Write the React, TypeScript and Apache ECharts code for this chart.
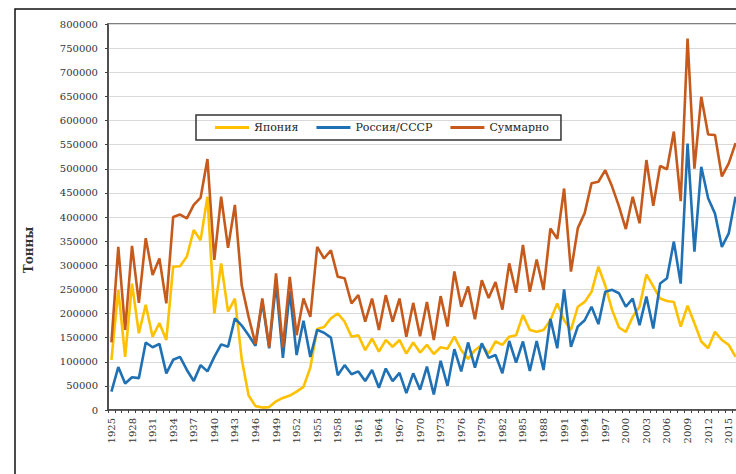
import React, { useEffect, useRef } from "react";
import * as echarts from "echarts";

const FIRST_YEAR = 1925;

const japan = [
  104000, 249000, 110000, 262000, 159000, 218000, 152000, 180000, 145000, 297000,
  298000, 318000, 373000, 352000, 442000, 200000, 304000, 204000, 231000, 105000,
  30000, 8000, 5000, 6000, 18000, 25000, 30000, 38000, 48000, 88000,
  168000, 172000, 190000, 200000, 183000, 152000, 155000, 124000, 148000, 121000,
  145000, 131000, 145000, 117000, 140000, 119000, 135000, 116000, 130000, 127000,
  152000, 124000, 106000, 124000, 135000, 117000, 142000, 135000, 152000, 155000,
  197000, 166000, 162000, 166000, 186000, 221000, 186000, 166000, 214000, 224000,
  245000, 297000, 258000, 207000, 171000, 162000, 193000, 214000, 281000, 256000,
  231000, 226000, 224000, 173000, 216000, 180000, 142000, 128000, 162000, 145000,
  135000, 110000,
];

const russia = [
  38000, 89000, 55000, 68000, 66000, 140000, 130000, 137000, 76000, 104000,
  110000, 83000, 60000, 93000, 80000, 110000, 136000, 131000, 190000, 175000,
  155000, 133000, 225000, 128000, 263000, 108000, 246000, 114000, 185000, 110000,
  166000, 160000, 150000, 72000, 93000, 74000, 80000, 60000, 83000, 46000,
  86000, 60000, 77000, 35000, 76000, 42000, 90000, 32000, 102000, 50000,
  126000, 80000, 140000, 88000, 138000, 108000, 114000, 76000, 143000, 98000,
  142000, 81000, 143000, 83000, 189000, 128000, 250000, 131000, 173000, 186000,
  214000, 178000, 245000, 249000, 242000, 214000, 231000, 176000, 235000, 169000,
  262000, 273000, 349000, 262000, 552000, 328000, 504000, 439000, 407000, 338000,
  366000, 442000,
];

const total = [
  140000, 338000, 166000, 340000, 222000, 356000, 280000, 314000, 221000, 400000,
  405000, 397000, 425000, 440000, 520000, 311000, 442000, 336000, 425000, 258000,
  193000, 137000, 231000, 130000, 283000, 130000, 276000, 155000, 231000, 193000,
  338000, 314000, 331000, 276000, 273000, 221000, 238000, 183000, 231000, 166000,
  238000, 183000, 231000, 152000, 222000, 153000, 224000, 145000, 236000, 173000,
  287000, 214000, 256000, 188000, 269000, 232000, 265000, 208000, 304000, 243000,
  342000, 245000, 312000, 249000, 376000, 355000, 459000, 287000, 377000, 408000,
  470000, 473000, 497000, 463000, 422000, 375000, 442000, 387000, 518000, 423000,
  506000, 499000, 577000, 433000, 770000, 500000, 649000, 571000, 570000, 484000,
  511000, 553000,
];

const years = japan.map((_, i) => String(FIRST_YEAR + i));
const seriesNames = ["Япония", "Россия/СССР", "Суммарно"];
const seriesColors = ["#FFC000", "#2070B4", "#C55A1C"];
const yAxisTitle = "Тонны";

const FONT = "DejaVu Serif";

export default function App() {
  const ref = useRef<HTMLDivElement>(null);
  useEffect(() => {
    const chart = echarts.init(ref.current!, null, { renderer: "svg" });
    const datasets = [japan, russia, total];
    chart.setOption({
      animation: false,
      backgroundColor: "#ffffff",
      grid: {
        left: 108,
        top: 24,
        width: 631,
        height: 386,
        show: true,
        borderColor: "#555555",
        borderWidth: 1.5,
        backgroundColor: "transparent",
      },
      legend: {
        left: 196,
        top: 115,
        padding: [7, 12, 7, 19],
        itemGap: 18,
        itemWidth: 34,
        itemHeight: 3,
        icon: "rect",
        borderColor: "#333333",
        borderWidth: 1.5,
        textStyle: { fontFamily: FONT, fontSize: 11, color: "#222" },
        data: seriesNames,
      },
      graphic: [
        {
          type: "rect",
          shape: { x: 15, y: 9, width: 900, height: 600 },
          style: { fill: "none", stroke: "#111", lineWidth: 1.5 },
          silent: true,
        },
        {
          type: "text",
          x: 29,
          y: 250,
          rotation: Math.PI / 2,
          style: {
            text: yAxisTitle,
            fontFamily: FONT,
            fontSize: 12,
            fontWeight: "bold",
            fill: "#333",
            align: "center",
            verticalAlign: "middle",
          },
        },
      ],
      xAxis: {
        type: "category",
        data: years,
        boundaryGap: true,
        axisLine: { lineStyle: { color: "#404040", width: 1.5 } },
        axisTick: { show: true, interval: 0, length: 3, lineStyle: { color: "#404040" } },
        axisLabel: {
          interval: 2,
          rotate: 90,
          margin: 8,
          fontFamily: FONT,
          fontSize: 10,
          color: "#333",
        },
        splitLine: { show: false },
      },
      yAxis: {
        type: "value",
        min: 0,
        max: 800000,
        interval: 50000,
        axisLine: { show: true, lineStyle: { color: "#404040", width: 1.5 } },
        axisTick: { show: true, length: 3, lineStyle: { color: "#404040" } },
        axisLabel: {
          margin: 10,
          fontFamily: FONT,
          fontSize: 10,
          color: "#333",
          formatter: (v: number) => String(v),
        },
        splitLine: { lineStyle: { color: "#d9d9d9", width: 1.2 } },
      },
      series: seriesNames.map((name, k) => ({
        name,
        type: "line",
        data: datasets[k],
        symbol: "none",
        showSymbol: false,
        color: seriesColors[k],
        lineStyle: { color: seriesColors[k], width: 2.6 },
      })),
    });
    return () => chart.dispose();
  }, []);
  return (
    <div
      style={{
        position: "fixed",
        left: 0,
        top: 0,
        width: 736,
        height: 474,
        overflow: "hidden",
        background: "#fff",
      }}
    >
      <div ref={ref} style={{ width: 780, height: 474 }} />
    </div>
  );
}
